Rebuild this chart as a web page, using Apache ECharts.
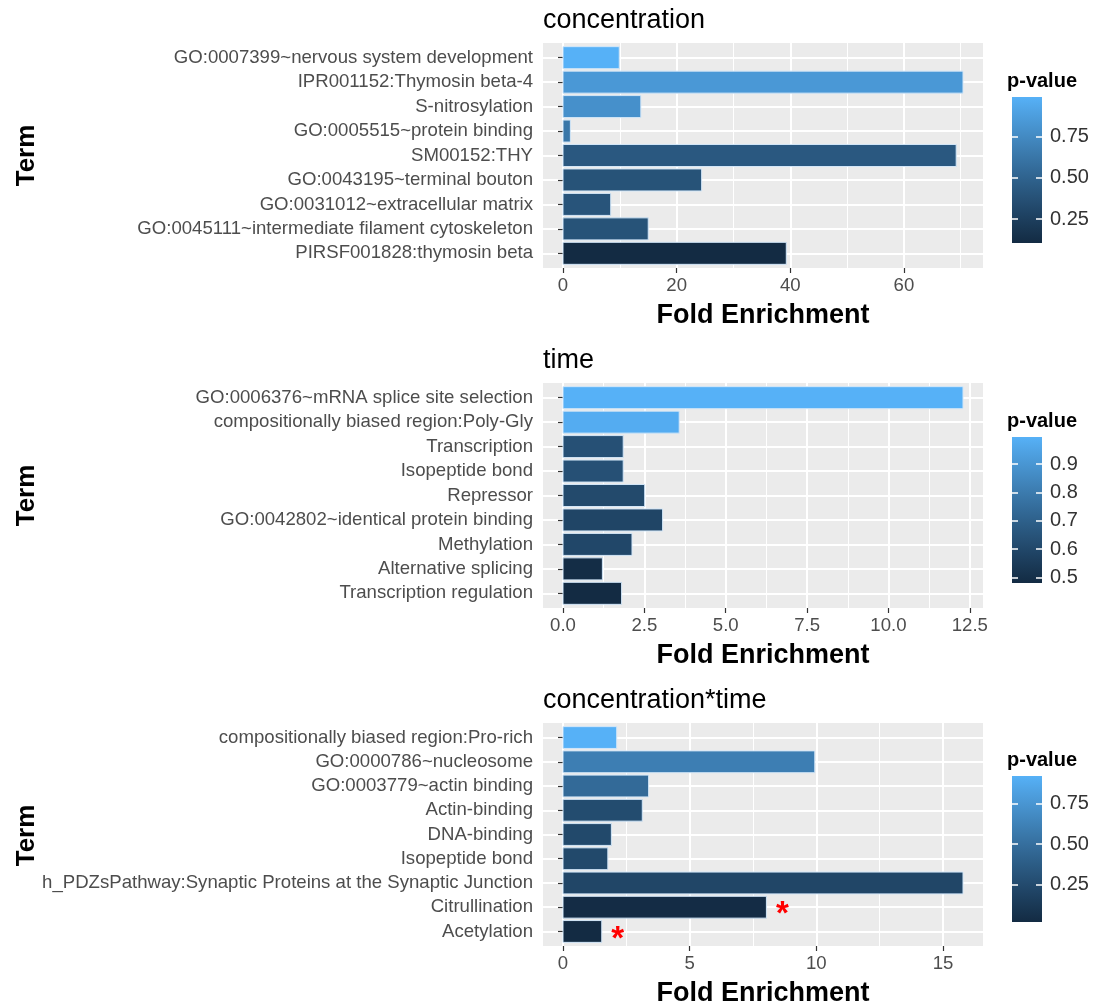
<!DOCTYPE html>
<html>
<head>
<meta charset="utf-8">
<script src="https://cdn.jsdelivr.net/npm/echarts@6/dist/echarts.min.js"></script>
<style>
  html, body { margin: 0; padding: 0; background: #ffffff; }
  #chart { width: 1099px; height: 1008px; }
</style>
</head>
<body>
<div id="chart"></div>
<script>
// ---- data ----
const concTerms = [
  'GO:0007399~nervous system development',
  'IPR001152:Thymosin beta-4',
  'S-nitrosylation',
  'GO:0005515~protein binding',
  'SM00152:THY',
  'GO:0043195~terminal bouton',
  'GO:0031012~extracellular matrix',
  'GO:0045111~intermediate filament cytoskeleton',
  'PIRSF001828:thymosin beta'
];
const concFold = [9.9, 70.4, 13.7, 1.3, 69.2, 24.4, 8.4, 15.0, 39.3];
const concP = [0.99, 0.84, 0.79, 0.63, 0.43, 0.39, 0.40, 0.39, 0.105];
const concMarks = ['', '', '', '', '', '', '', '', ''];

const timeTerms = [
  'GO:0006376~mRNA splice site selection',
  'compositionally biased region:Poly-Gly',
  'Transcription',
  'Isopeptide bond',
  'Repressor',
  'GO:0042802~identical protein binding',
  'Methylation',
  'Alternative splicing',
  'Transcription regulation'
];
const timeFold = [12.29, 3.57, 1.85, 1.85, 2.51, 3.06, 2.12, 1.21, 1.80];
const timeP = [0.996, 0.98, 0.635, 0.635, 0.61, 0.59, 0.60, 0.49, 0.48];
const timeMarks = ['', '', '', '', '', '', '', '', ''];

const ctTerms = [
  'compositionally biased region:Pro-rich',
  'GO:0000786~nucleosome',
  'GO:0003779~actin binding',
  'Actin-binding',
  'DNA-binding',
  'Isopeptide bond',
  'h_PDZsPathway:Synaptic Proteins at the Synaptic Junction',
  'Citrullination',
  'Acetylation'
];
const ctFold = [2.12, 9.94, 3.38, 3.13, 1.91, 1.77, 15.79, 8.03, 1.53];
const ctP = [0.92, 0.60, 0.47, 0.26, 0.24, 0.24, 0.22, 0.03, 0.02];
const ctMarks = ['', '', '', '', '', '', '', '*', '*'];

// axis tick values
const concTicks = [0, 20, 40, 60];
const concMinor = [10, 30, 50, 70];
const timeTicks = [0, 2.5, 5, 7.5, 10, 12.5];
const timeMinor = [1.25, 3.75, 6.25, 8.75, 11.25];
const ctTicks = [0, 5, 10, 15];
const ctMinor = [2.5, 7.5, 12.5];

const concLegendTicks = [0.25, 0.5, 0.75];
const timeLegendTicks = [0.5, 0.6, 0.7, 0.8, 0.9];
const ctLegendTicks = [0.25, 0.5, 0.75];

const panelTitles = ['concentration', 'time', 'concentration*time'];

// ---- colour scale: #132B43 -> #56B1F7 interpolated in CIE Lab ----
const FONT = '"Liberation Sans", Arial, sans-serif';
function toLin(c) { c /= 255; return c <= 0.04045 ? c / 12.92 : Math.pow((c + 0.055) / 1.055, 2.4); }
function toS(c) {
  const v = c <= 0.0031308 ? 12.92 * c : 1.055 * Math.pow(c, 1 / 2.4) - 0.055;
  return Math.round(Math.max(0, Math.min(1, v)) * 255);
}
const Xn = 0.95047, Yn = 1.0, Zn = 1.08883;
function fLab(t) { return t > 0.008856 ? Math.cbrt(t) : 7.787 * t + 16 / 116; }
function fInv(t) { return t > 0.206893 ? t * t * t : (t - 16 / 116) / 7.787; }
function hexToLab(hex) {
  const r = toLin(parseInt(hex.slice(1, 3), 16));
  const g = toLin(parseInt(hex.slice(3, 5), 16));
  const b = toLin(parseInt(hex.slice(5, 7), 16));
  const X = (0.4124 * r + 0.3576 * g + 0.1805 * b) / Xn;
  const Y = (0.2126 * r + 0.7152 * g + 0.0722 * b) / Yn;
  const Z = (0.0193 * r + 0.1192 * g + 0.9505 * b) / Zn;
  const fx = fLab(X), fy = fLab(Y), fz = fLab(Z);
  return [116 * fy - 16, 500 * (fx - fy), 200 * (fy - fz)];
}
function labToRgb(L, a, b) {
  const fy = (L + 16) / 116, fx = fy + a / 500, fz = fy - b / 200;
  const X = fInv(fx) * Xn, Y = fInv(fy) * Yn, Z = fInv(fz) * Zn;
  const r = 3.2406 * X - 1.5372 * Y - 0.4986 * Z;
  const g = -0.9689 * X + 1.8758 * Y + 0.0415 * Z;
  const bl = 0.0557 * X - 0.2040 * Y + 1.0570 * Z;
  return 'rgb(' + toS(r) + ',' + toS(g) + ',' + toS(bl) + ')';
}
const LOW = hexToLab('#132B43'), HIGH = hexToLab('#56B1F7');
function pal(t) {
  t = Math.max(0, Math.min(1, t));
  return labToRgb(LOW[0] + (HIGH[0] - LOW[0]) * t, LOW[1] + (HIGH[1] - LOW[1]) * t, LOW[2] + (HIGH[2] - LOW[2]) * t);
}

// ---- layout ----
const PLOT_LEFT = 543, PLOT_W = 440, PLOT_H = 225;
const PLOT_TOP = [43, 383, 723];
const BAR_LEFT = 1012, BAR_W = 30, BAR_H = 146;
const BAR_TOP = [97, 437, 776];

const panels = [
  { terms: concTerms, fold: concFold, p: concP, marks: concMarks, ticks: concTicks, minor: concMinor, xd: 0, lt: concLegendTicks, ld: 2 },
  { terms: timeTerms, fold: timeFold, p: timeP, marks: timeMarks, ticks: timeTicks, minor: timeMinor, xd: 1, lt: timeLegendTicks, ld: 1 },
  { terms: ctTerms, fold: ctFold, p: ctP, marks: ctMarks, ticks: ctTicks, minor: ctMinor, xd: 0, lt: ctLegendTicks, ld: 2 }
];

// grids are interleaved: panel i -> grid 2*i, its colour bar -> grid 2*i+1
const grid = [], xAxis = [], yAxis = [], series = [], title = [], graphic = [];

panels.forEach((pn, i) => {
  const n = pn.terms.length;
  const M = Math.max(...pn.fold);
  const pmin = Math.min(...pn.p), pmax = Math.max(...pn.p);
  const idx = pn.terms.map((_, k) => k + 1);
  const gPanel = 2 * i, gBar = 2 * i + 1;

  grid.push({ left: PLOT_LEFT, top: PLOT_TOP[i], width: PLOT_W, height: PLOT_H,
    show: true, backgroundColor: '#EBEBEB', borderWidth: 0 });

  const stops = [];
  for (let s = 0; s <= 10; s++) stops.push({ offset: s / 10, color: pal(1 - s / 10) });
  grid.push({ left: BAR_LEFT, top: BAR_TOP[i], width: BAR_W, height: BAR_H, show: true, borderWidth: 0,
    backgroundColor: { type: 'linear', x: 0, y: 0, x2: 0, y2: 1, colorStops: stops } });

  // panel axes
  xAxis.push({
    type: 'value', gridIndex: gPanel, min: -0.05 * M, max: 1.05 * M,
    axisLine: { show: false },
    axisTick: { show: true, customValues: pn.ticks, length: 5, lineStyle: { color: '#333333', width: 1.2 } },
    axisLabel: { customValues: pn.ticks, formatter: v => Number(v).toFixed(pn.xd),
      color: '#4D4D4D', fontSize: 18.6, fontFamily: FONT, margin: 8 },
    splitLine: { show: true, lineStyle: { color: '#FFFFFF', width: 2 } },
    name: 'Fold Enrichment', nameLocation: 'middle', nameGap: 34,
    nameTextStyle: { fontSize: 27, fontWeight: 'bold', color: '#000000', fontFamily: FONT }
  });
  xAxis.push({
    type: 'value', gridIndex: gPanel, min: -0.05 * M, max: 1.05 * M,
    axisLine: { show: false }, axisLabel: { show: false },
    axisTick: { show: false, customValues: pn.minor },
    splitLine: { show: true, lineStyle: { color: '#FFFFFF', width: 1 } }
  });
  yAxis.push({
    type: 'value', gridIndex: gPanel, min: 0.4, max: n + 0.6, inverse: true,
    axisLine: { show: false },
    axisTick: { show: true, customValues: idx, length: 5, lineStyle: { color: '#333333', width: 1.2 } },
    axisLabel: { customValues: idx, formatter: v => pn.terms[Math.round(v) - 1],
      color: '#4D4D4D', fontSize: 18.6, fontFamily: FONT, margin: 10 },
    splitLine: { show: true, lineStyle: { color: '#FFFFFF', width: 2 } }
  });

  series.push({
    type: 'custom', xAxisIndex: 2 * i, yAxisIndex: i, clip: false,
    data: pn.fold.map((v, k) => [v, k + 1, pn.p[k]]),
    encode: { x: 0, y: 1 },
    renderItem: (params, api) => {
      const v = api.value(0), row = api.value(1), pv = api.value(2);
      const start = api.coord([0, row]);
      const end = api.coord([v, row]);
      const h = api.size([0, 0.9])[1];
      const children = [{
        type: 'rect',
        shape: { x: start[0], y: start[1] - h / 2, width: end[0] - start[0], height: h },
        style: { fill: pal((pv - pmin) / (pmax - pmin)), stroke: '#D2E6F8', lineWidth: 1 }
      }];
      const mk = pn.marks[params.dataIndex];
      if (mk) {
        children.push({
          type: 'text',
          style: { text: mk, x: end[0] + 16, y: end[1] + 8, align: 'center', verticalAlign: 'middle',
            fill: '#FF0000', font: 'bold 33px ' + FONT }
        });
      }
      return { type: 'group', children };
    }
  });
});

// colour-bar axes
panels.forEach((pn, i) => {
  const gBar = 2 * i + 1;
  const pmin = Math.min(...pn.p), pmax = Math.max(...pn.p);
  xAxis.push({ type: 'value', gridIndex: gBar, min: 0, max: 1, show: false });
  const tick = { show: true, inside: true, length: 6, customValues: pn.lt, lineStyle: { color: '#FFFFFF', width: 1.5 } };
  yAxis.push({ type: 'value', gridIndex: gBar, position: 'left', min: pmin, max: pmax,
    axisLine: { show: false }, axisTick: tick, axisLabel: { show: false }, splitLine: { show: false } });
  yAxis.push({ type: 'value', gridIndex: gBar, position: 'right', min: pmin, max: pmax,
    axisLine: { show: false }, axisTick: tick,
    axisLabel: { customValues: pn.lt, formatter: v => Number(v).toFixed(pn.ld), color: '#333333',
      fontSize: 20, fontFamily: FONT, margin: 8 },
    splitLine: { show: false } });

  title.push({ text: 'p-value', left: 1007, top: BAR_TOP[i] - 26, padding: 0,
    textStyle: { fontSize: 20, fontWeight: 'bold', color: '#000000', fontFamily: FONT, lineHeight: 20 } });
  title.push({ text: panelTitles[i], left: PLOT_LEFT, top: PLOT_TOP[i] - 36, padding: 0,
    textStyle: { fontSize: 27, fontWeight: 'normal', color: '#000000', fontFamily: FONT, lineHeight: 27 } });
  graphic.push({ type: 'text', x: 27, y: PLOT_TOP[i] + PLOT_H / 2, rotation: Math.PI / 2,
    style: { text: 'Term', font: 'bold 26px ' + FONT, fill: '#000000', align: 'center', verticalAlign: 'middle' } });
});

const chart = echarts.init(document.getElementById('chart'), null, { renderer: 'canvas' });
chart.setOption({
  backgroundColor: '#FFFFFF',
  animation: false,
  title, grid, xAxis, yAxis, series, graphic
});
</script>
</body>
</html>
